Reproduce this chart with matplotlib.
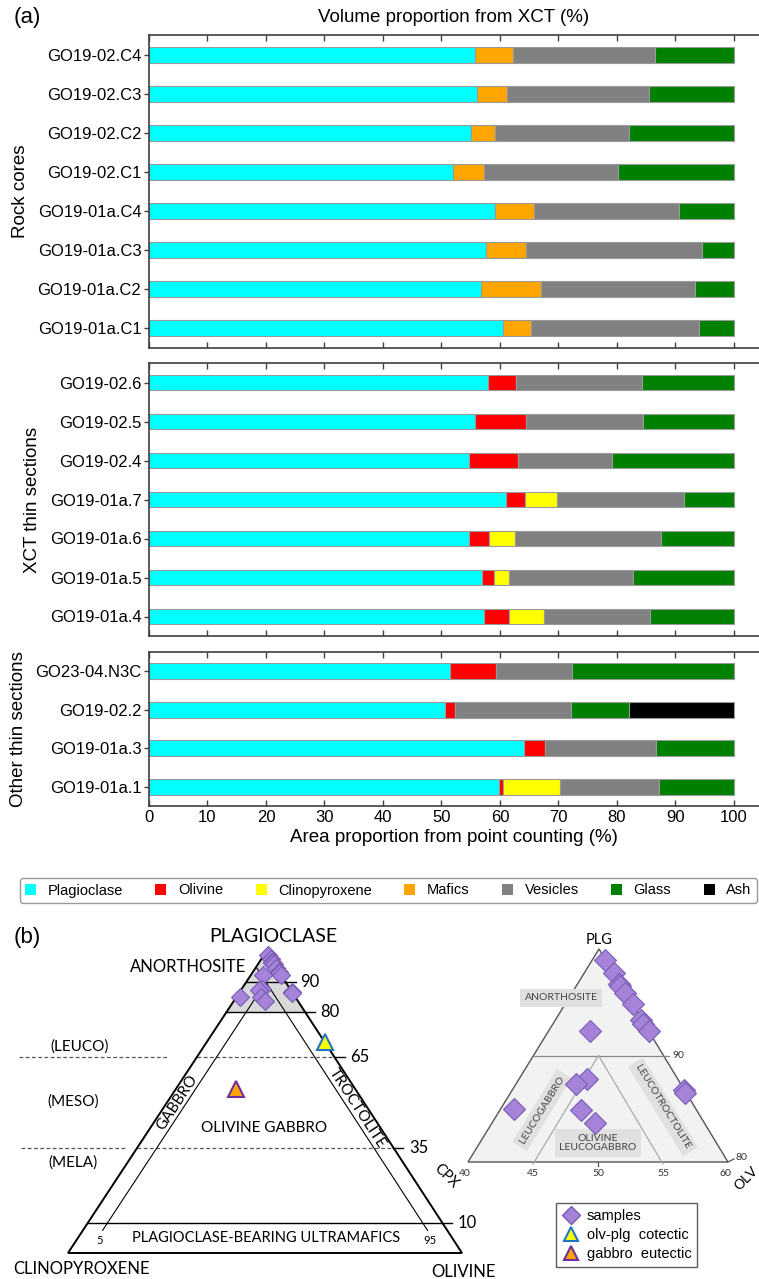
import numpy as np
import matplotlib
matplotlib.use('Agg')
import matplotlib.pyplot as plt
from matplotlib.lines import Line2D
from matplotlib.patches import Patch, Polygon

plt.rcParams['font.family'] = ['Liberation Sans', 'DejaVu Sans']

# ---------------- data: panel (a) ----------------
minerals = ['Plagioclase', 'Olivine', 'Clinopyroxene', 'Mafics', 'Vesicles', 'Glass', 'Ash']
mineral_colors = ['#00ffff', '#ff0000', '#ffff00', '#ffa500', '#808080', '#008000', '#000000']

core_labels = ['GO19-02.C4', 'GO19-02.C3', 'GO19-02.C2', 'GO19-02.C1',
               'GO19-01a.C4', 'GO19-01a.C3', 'GO19-01a.C2', 'GO19-01a.C1']
core_plag = [55.8, 56.0, 55.1, 51.9, 59.1, 57.7, 56.8, 60.6]
core_mafics = [6.5, 5.2, 4.0, 5.4, 6.7, 6.7, 10.3, 4.8]
core_vesicles = [24.3, 24.3, 22.9, 22.9, 24.9, 30.2, 26.2, 28.6]
core_glass = [13.4, 14.5, 18.0, 19.8, 9.3, 5.4, 6.7, 6.0]

xct_labels = ['GO19-02.6', 'GO19-02.5', 'GO19-02.4', 'GO19-01a.7',
              'GO19-01a.6', 'GO19-01a.5', 'GO19-01a.4']
xct_plag = [58.0, 55.8, 54.8, 61.0, 54.8, 56.9, 57.3]
xct_olivine = [4.8, 8.7, 8.3, 3.3, 3.4, 2.1, 4.3]
xct_cpx = [0.0, 0.0, 0.0, 5.5, 4.3, 2.6, 6.0]
xct_vesicles = [21.5, 20.0, 16.1, 21.6, 25.0, 21.1, 18.0]
xct_glass = [15.7, 15.5, 20.8, 8.6, 12.5, 17.3, 14.4]

oth_labels = ['GO23-04.N3C', 'GO19-02.2', 'GO19-01a.3', 'GO19-01a.1']
oth_plag = [51.4, 50.6, 64.2, 59.8]
oth_olivine = [8.0, 1.8, 3.5, 0.7]
oth_cpx = [0.0, 0.0, 0.0, 9.8]
oth_vesicles = [13.0, 19.7, 19.0, 16.9]
oth_glass = [27.6, 10.0, 13.3, 12.8]
oth_ash = [0.0, 17.9, 0.0, 0.0]

# ---------------- data: panel (b) ----------------
# samples as PLG / CPX / OL modal percent
samp_plg = [99.0, 97.7, 96.7, 96.5, 95.9, 94.8, 93.3, 93.0, 92.3, 92.3, 86.8, 86.5, 87.8, 87.3, 84.9, 83.7, 85.0]
samp_cpx = [0.05, 0.0, 0.1, 0.1, 0.0, 0.0, 0.1, 0.1, 0.0, 4.5, 0.0, 0.1, 7.0, 8.1, 8.9, 8.4, 14.0]
samp_ol = [0.95, 2.3, 3.2, 3.4, 4.1, 5.2, 6.6, 6.9, 7.7, 3.2, 13.2, 13.4, 5.2, 4.6, 6.2, 7.9, 1.0]
cotectic = [70.0, 0.0, 30.0]      # olv-plg cotectic (PLG, CPX, OL)
eutectic = [54.5, 30.3, 15.2]     # gabbro eutectic (PLG, CPX, OL)

W, H = 759, 1279
fig = plt.figure(figsize=(W / 100, H / 100), dpi=100)

def fx(px):
    return px / W

def fy(py):
    return 1 - py / H

left_px, right_px = 149, 759
panel_specs = [(35, 348), (363, 636), (652, 806)]
axes = []
for top, bot in panel_specs:
    ax = fig.add_axes([fx(left_px), fy(bot), fx(right_px) - fx(left_px), (bot - top) / H])
    axes.append(ax)

bar_h = 0.41
edge_kw = dict(edgecolor='#9a9a9a', linewidth=0.8, height=bar_h)

def stacked(ax, labels, series):
    y = np.arange(len(labels))
    left = np.zeros(len(labels))
    for name, vals in series:
        vals = np.asarray(vals, dtype=float)
        ci = minerals.index(name)
        ax.barh(y, vals, left=left, color=mineral_colors[ci], **edge_kw)
        left = left + vals
    ax.set_yticks(y)
    ax.set_yticklabels(labels)
    ax.set_ylim(len(labels) - 0.5, -0.5)

stacked(axes[0], core_labels, [('Plagioclase', core_plag), ('Mafics', core_mafics),
                               ('Vesicles', core_vesicles), ('Glass', core_glass)])
stacked(axes[1], xct_labels, [('Plagioclase', xct_plag), ('Olivine', xct_olivine),
                              ('Clinopyroxene', xct_cpx), ('Vesicles', xct_vesicles),
                              ('Glass', xct_glass)])
stacked(axes[2], oth_labels, [('Plagioclase', oth_plag), ('Olivine', oth_olivine),
                              ('Clinopyroxene', oth_cpx), ('Vesicles', oth_vesicles),
                              ('Glass', oth_glass), ('Ash', oth_ash)])

ylabels = ['Rock cores', 'XCT thin sections', 'Other thin sections']
for i, ax in enumerate(axes):
    ax.set_xlim(0, 104.3)
    ax.set_xticks(np.arange(0, 101, 10))
    ax.tick_params(axis='x', direction='in', top=True, bottom=True, length=4.5,
                   width=1, color='#404040', labelsize=12)
    ax.tick_params(axis='y', direction='out', length=3.5, width=1, color='#404040',
                   labelsize=12, pad=2)
    ax.spines['right'].set_visible(False)
    for s in ['left', 'top', 'bottom']:
        ax.spines[s].set_color('#404040')
        ax.spines[s].set_linewidth(1.2)
    ax.set_ylabel(ylabels[i], fontsize=13.5, labelpad=6)
    if i < 2:
        ax.tick_params(axis='x', labelbottom=False)
axes[2].set_xlabel('Area proportion from point counting (%)', fontsize=13.5, labelpad=3)
axes[2].tick_params(axis='x', pad=3)
axes[0].set_title('Volume proportion from XCT (%)', fontsize=13.5, pad=9)

fig.text(fx(27), fy(18), '(a)', fontsize=16, ha='center', va='center')

handles = [Patch(facecolor=c, edgecolor='none') for c in mineral_colors]
fig.legend(handles, minerals, ncol=7, loc='center left',
           bbox_to_anchor=(fx(20), fy(890.5)), fontsize=10.5,
           handlelength=0.75, handleheight=0.75, handletextpad=0.8,
           columnspacing=2.22, borderpad=0.35, borderaxespad=0, frameon=True,
           edgecolor='#808080', fancybox=True)

# ---------------- panel (b) ----------------
axb = fig.add_axes([0, 0, 1, 1])
axb.set_xlim(0, W)
axb.set_ylim(H, 0)
axb.axis('off')
axb.patch.set_visible(False)

fig.text(fx(27), fy(937), '(b)', fontsize=16, ha='center', va='center')

A1, C1, O1 = (266, 952), (68, 1253), (462, 1253)

def lt(plg, cpx, ol):
    t = plg + cpx + ol
    return ((plg * A1[0] + cpx * C1[0] + ol * O1[0]) / t,
            (plg * A1[1] + cpx * C1[1] + ol * O1[1]) / t)

tfont = ['Lato', 'DejaVu Sans']

axb.add_patch(Polygon([lt(100, 0, 0), lt(80, 20, 0), lt(80, 0, 20)], closed=True,
                      facecolor='#d9d9d9', edgecolor='none', zorder=1))
axb.add_patch(Polygon([A1, C1, O1], closed=True, facecolor='none',
                      edgecolor='black', linewidth=1.4, zorder=3))

def hline_plg(p, tick=10, ls='-', color='black', lw=1.0):
    x0, y0 = lt(p, 100 - p, 0)
    x1, y1 = lt(p, 0, 100 - p)
    axb.plot([x0, x1], [y0, y1], ls=ls, color=color, lw=lw, zorder=2)
    axb.plot([x1, x1 + tick], [y1, y1], color='black', lw=1.0, zorder=2)
    return x1 + tick, y1

for p, lab in [(90, '90'), (80, '80'), (10, '10')]:
    xe, ye = hline_plg(p)
    axb.text(xe + 5, ye, lab, fontsize=12, family=tfont, ha='left', va='center')
for p, lab in [(65, '65'), (35, '35')]:
    xe, ye = hline_plg(p, ls=(0, (3, 2)), color='#555555', lw=0.9)
    axb.text(xe + 6, ye, lab, fontsize=12, family=tfont, ha='left', va='center')

# dashed outside lines (leuco/meso/mela)
axb.plot([19, 168], [lt(65, 35, 0)[1]] * 2, ls=(0, (3, 2)), color='#555555', lw=0.9)
axb.plot([21, 127], [lt(35, 65, 0)[1]] * 2, ls=(0, (3, 2)), color='#555555', lw=0.9)

# 5 % olivine and 5 % clinopyroxene lines
p_end = 7.5
l5a, l5b = lt(95, 0, 5), lt(p_end, 100 - p_end - 5, 5)
r5a, r5b = lt(95, 5, 0), lt(p_end, 5, 100 - p_end - 5)
axb.plot([l5a[0], l5b[0]], [l5a[1], l5b[1]], color='black', lw=0.8, zorder=2)
axb.plot([r5a[0], r5b[0]], [r5a[1], r5b[1]], color='black', lw=0.8, zorder=2)
axb.text(100, 1240, '5', fontsize=8, family=tfont, ha='center', va='center')
axb.text(430, 1240, '95', fontsize=8, family=tfont, ha='center', va='center')

axb.text(273, 937, 'PLAGIOCLASE', fontsize=14, family=tfont, ha='center', va='center')
axb.text(188, 967, 'ANORTHOSITE', fontsize=12, family=tfont, ha='center', va='center')
axb.text(80, 1047, '(LEUCO)', fontsize=11, family=tfont, ha='center', va='center')
axb.text(73, 1102, '(MESO)', fontsize=11, family=tfont, ha='center', va='center')
axb.text(73, 1163, '(MELA)', fontsize=11, family=tfont, ha='center', va='center')
axb.text(177, 1103, 'GABBRO', fontsize=11, family=tfont, ha='center', va='center',
         rotation=56.7, rotation_mode='anchor')
axb.text(357, 1108, 'TROCTOLITE', fontsize=11, family=tfont, ha='center', va='center',
         rotation=-56.9, rotation_mode='anchor')
axb.text(264, 1128, 'OLIVINE GABBRO', fontsize=11, family=tfont, ha='center', va='center')
axb.text(266, 1238, 'PLAGIOCLASE-BEARING ULTRAMAFICS', fontsize=10.5, family=tfont,
         ha='center', va='center')
axb.text(82, 1269, 'CLINOPYROXENE', fontsize=12, family=tfont, ha='center', va='center')
axb.text(463, 1272, 'OLIVINE', fontsize=12, family=tfont, ha='center', va='center')

samp_face, samp_edge = '#a583d9', '#7a5cb5'
sx, sy = zip(*[lt(p, c, o) for p, c, o in zip(samp_plg, samp_cpx, samp_ol)])
axb.plot(sx, sy, 'D', ms=9.5, mfc=samp_face, mec=samp_edge, mew=0.8, ls='none', zorder=5)
cx, cy = lt(*cotectic)
axb.plot([cx], [cy], '^', ms=12, mfc='#ffff00', mec='#1f77c4', mew=1.5, zorder=5)
ex, ey = lt(*eutectic)
axb.plot([ex], [ey], '^', ms=12, mfc='#ffa500', mec='#7030a0', mew=1.5, zorder=5)

# ---------- zoomed ternary (right) ----------
A2, C2, O2 = (599, 949), (468, 1162), (728, 1162)  # PLG 100 apex, base at PLG 80

def rt(plg, cpx, ol):
    return (A2[0] + cpx / 20 * (C2[0] - A2[0]) + ol / 20 * (O2[0] - A2[0]),
            A2[1] + cpx / 20 * (C2[1] - A2[1]) + ol / 20 * (O2[1] - A2[1]))

axb.add_patch(Polygon([A2, C2, O2], closed=True, facecolor='#f2f2f2',
                      edgecolor='#555555', linewidth=1.0, zorder=1))
m0 = rt(90, 10, 0)
m1 = rt(90, 0, 10)
axb.plot([m0[0], m1[0] + 5], [m0[1], m1[1]], color='#888888', lw=0.9, zorder=2)
axb.text(m1[0] + 9, m1[1], '90', fontsize=7.5, family=tfont, ha='left', va='center',
         color='#333333')
mid = ((m0[0] + m1[0]) / 2, m0[1])
b45 = (C2[0] + 0.25 * (O2[0] - C2[0]), C2[1])
b55 = (C2[0] + 0.75 * (O2[0] - C2[0]), C2[1])
axb.plot([b45[0], mid[0], b55[0]], [b45[1] + 2, mid[1], b55[1] + 2], color='#aaaaaa',
         lw=0.9, zorder=2)
axb.plot([O2[0], O2[0] + 6], [O2[1], O2[1] - 3], color='#555555', lw=0.9)
axb.text(O2[0] + 7, O2[1] - 4, '80', fontsize=7.5, family=tfont, ha='left', va='center',
         color='#333333')
for k, lab in enumerate(['40', '45', '50', '55', '60']):
    bx = C2[0] + k / 4 * (O2[0] - C2[0])
    if k == 2:
        axb.plot([bx, bx], [C2[1], C2[1] + 4], color='#555555', lw=0.9)
    axb.text(bx - 3 if k in (0, 4) else bx, C2[1] + 11, lab, fontsize=7.5, family=tfont,
             ha='center', va='center', color='#333333')

axb.text(599, 940, 'PLG', fontsize=10.5, family=tfont, ha='center', va='center')
axb.text(446, 1176, 'CPX', fontsize=10.5, family=tfont, ha='center', va='center',
         rotation=-45)
axb.text(746, 1178, 'OLV', fontsize=10, family=tfont, ha='center', va='center',
         rotation=45)

box = dict(facecolor='#e0e0e0', edgecolor='none', pad=3.0)
axb.text(561, 998, 'ANORTHOSITE', fontsize=7.5, family=tfont, ha='center', va='center',
         color='#444444', bbox=box, zorder=3)
axb.text(542, 1110, 'LEUCOGABBRO', fontsize=7.5, family=tfont, ha='center', va='center',
         color='#444444', bbox=box, rotation=58.4, zorder=3)
axb.text(663, 1107, 'LEUCOTROCTOLITE', fontsize=7.5, family=tfont, ha='center',
         va='center', color='#444444', bbox=box, rotation=-58.4, zorder=3)
axb.text(598, 1143, 'OLIVINE\nLEUCOGABBRO', fontsize=7.5, family=tfont, ha='center',
         va='center', color='#444444', bbox=box, linespacing=1.1, zorder=3)

rx, ry = zip(*[rt(p, c, o) for p, c, o in zip(samp_plg, samp_cpx, samp_ol)])
axb.plot(rx, ry, 'D', ms=11.5, mfc=samp_face, mec=samp_edge, mew=0.8, ls='none', zorder=5)

leg_handles = [
    Line2D([], [], marker='D', ls='none', ms=9, mfc=samp_face, mec=samp_edge),
    Line2D([], [], marker='^', ls='none', ms=10, mfc='#ffff00', mec='#1f77c4', mew=1.5),
    Line2D([], [], marker='^', ls='none', ms=10, mfc='#ffa500', mec='#7030a0', mew=1.5),
]
axb.legend(leg_handles, ['samples', 'olv-plg  cotectic', 'gabbro  eutectic'],
           loc='lower left', bbox_to_anchor=(fx(556), fy(1267)),
           bbox_transform=fig.transFigure, fontsize=10.5, frameon=True,
           fancybox=False, edgecolor='#333333', handlelength=1.2, handletextpad=0.5,
           borderpad=0.4, labelspacing=0.35, borderaxespad=0)

fig.savefig('out.png', dpi=100)
